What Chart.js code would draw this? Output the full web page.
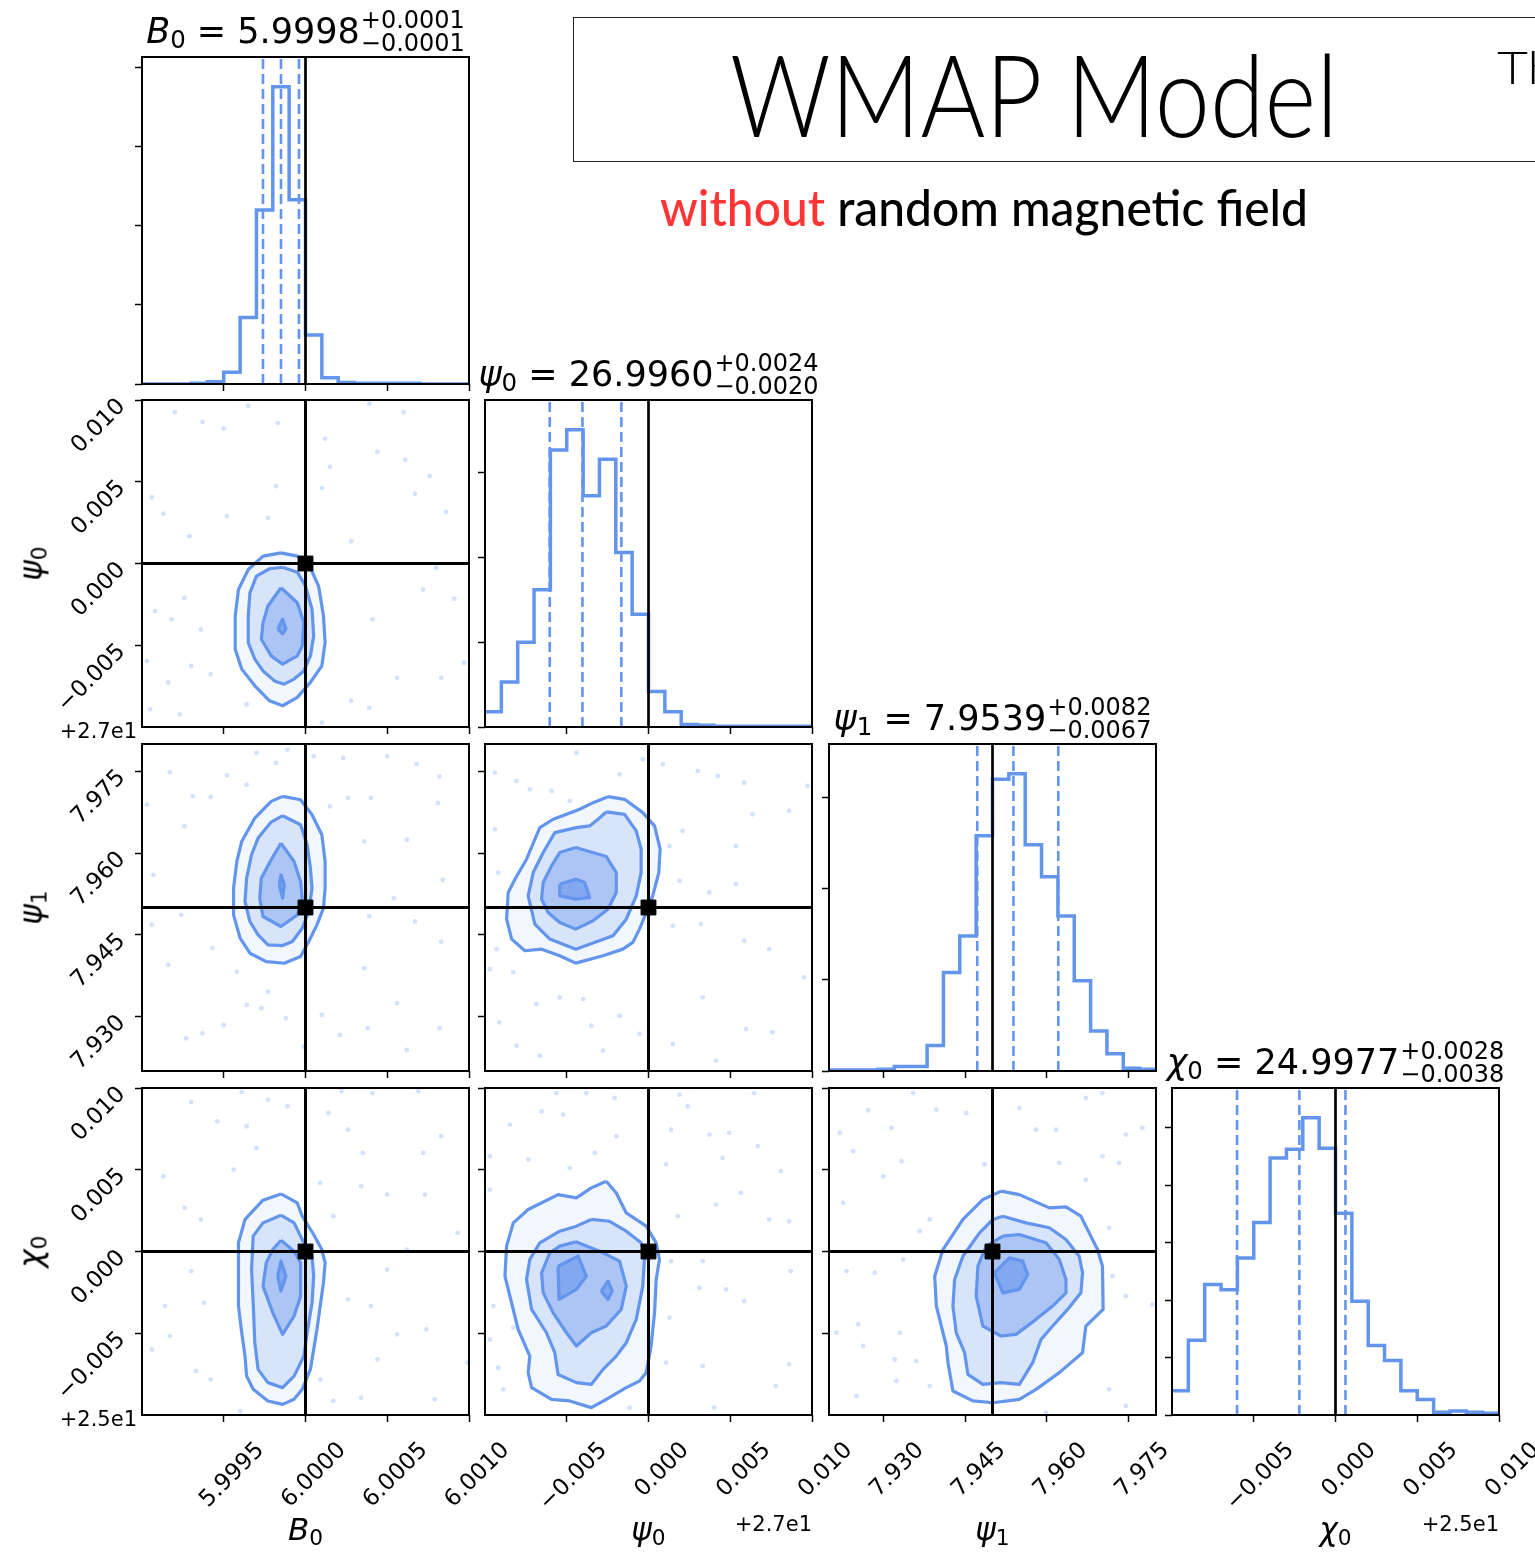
<!DOCTYPE html>
<html>
<head>
<meta charset="utf-8">
<title>WMAP Model corner plot</title>
<script src="https://cdn.jsdelivr.net/npm/chart.js@4.4.1/dist/chart.umd.min.js"></script>
<style>
  html, body { margin: 0; padding: 0; }
  body { width: 1535px; height: 1558px; overflow: hidden; position: relative; background: #fff;
         font-family: "DejaVu Sans", sans-serif; color: #000; }
  canvas { position: absolute; }
  .txt { position: absolute; white-space: nowrap; line-height: 1.2; }
  .txt sub { font-size: 0.7em; vertical-align: -0.22em; line-height: 0; }
  .ttl { font-size: 35px; }
  .pm { display: inline-flex; flex-direction: column; font-size: 24px; line-height: 23px; vertical-align: 15px; margin-left: 1px; }
  .axl { font-size: 31px; }
  .off { font-size: 21px; }
  #box { position: absolute; left: 573px; top: 17px; width: 1100px; height: 143px; border: 1.5px solid #222; }
  .hd { position: absolute; white-space: nowrap; font-family: Lato, sans-serif; line-height: 1.2; transform-origin: 0 0; }
</style>
</head>
<body>
<div id="box"></div>
<div class="hd" id="hTitle" style="font-weight:300;font-size:114px;">WMAP Model</div>
<div class="hd" id="hSide" style="font-weight:300;font-size:46px;">Th</div>
<div class="hd" id="hSub" style="font-size:50px;font-weight:500;"><span style="color:#ff3535">without</span> random magnetic field</div>
<script>
// ---- data ----
var nBins = 20;
var histTickStep = 100;

var b0Range = [5.999, 6.001];
var psi0Range = [26.99, 27.01];
var psi1Range = [7.92, 7.98];
var chi0Range = [24.99, 25.01];

var b0Ticks = [5.9995, 6.0, 6.0005, 6.001];
var psi0Ticks = [26.995, 27.0, 27.005, 27.01];
var psi1Ticks = [7.93, 7.945, 7.96, 7.975];
var chi0Ticks = [24.995, 25.0, 25.005, 25.01];

var b0Truth = 6.0, psi0Truth = 27.0, psi1Truth = 7.95, chi0Truth = 25.0;

var b0Counts = [0, 0, 0, 1, 3, 15, 84, 220, 376, 233, 62, 8, 2, 1, 1, 1, 1, 0, 0, 0];
var psi0Counts = [18, 53, 100, 162, 327, 351, 273, 316, 206, 133, 42, 18, 3, 2, 1, 1, 1, 1, 1, 1];
var psi1Counts = [1, 1, 1, 2, 5, 5, 28, 108, 148, 258, 320, 326, 248, 213, 170, 99, 44, 19, 3, 2];
var chi0Counts = [42, 130, 227, 218, 273, 335, 447, 462, 517, 464, 351, 198, 121, 95, 42, 27, 5, 7, 5, 3];

var b0Quant = [5.99974, 5.99985, 5.99996];
var psi0Quant = [26.99396, 26.99596, 26.99834];
var psi1Quant = [7.94720, 7.95384, 7.96207];
var chi0Quant = [24.99398, 24.99779, 25.00061];

var b0Title = ['5.9998', '+0.0001', '\u22120.0001'];
var psi0Title = ['26.9960', '+0.0024', '\u22120.0020'];
var psi1Title = ['7.9539', '+0.0082', '\u22120.0067'];
var chi0Title = ['24.9977', '+0.0028', '\u22120.0038'];

// contours, outer (2 sigma) to inner
var b0Psi0C1 = [[5.99985,27.00065],[5.99995,27.00045],[6.00003,26.99974],[6.00008,26.99862],[6.00011,26.99679],[6.00012,26.99516],[6.00010,26.99374],[6.00003,26.99273],[5.99995,26.99181],[5.99986,26.99130],[5.99978,26.99160],[5.99969,26.99252],[5.99961,26.99354],[5.99957,26.99476],[5.99957,26.99679],[5.99959,26.99841],[5.99965,26.99963],[5.99974,27.00045]];
var b0Psi0C2 = [[5.99986,26.99977],[5.99995,26.99947],[6.00000,26.99862],[6.00004,26.99720],[6.00005,26.99557],[6.00003,26.99435],[5.99999,26.99343],[5.99993,26.99293],[5.99987,26.99262],[5.99981,26.99282],[5.99974,26.99343],[5.99969,26.99415],[5.99965,26.99516],[5.99965,26.99679],[5.99966,26.99821],[5.99970,26.99923],[5.99978,26.99968]];
var b0Psi0C3 = [[5.99985,26.99852],[5.99995,26.99760],[5.99999,26.99638],[5.99998,26.99496],[5.99995,26.99435],[5.99986,26.99384],[5.99979,26.99435],[5.99973,26.99537],[5.99974,26.99638],[5.99977,26.99740]];
var b0Psi0C4 = [[5.99983,26.99598],[5.99986,26.99659],[5.99988,26.99598],[5.99986,26.99570]];

var b0Psi1C1 = [[5.99986,7.97039],[5.99997,7.96978],[6.00004,7.96702],[6.00010,7.96335],[6.00012,7.95845],[6.00012,7.95355],[6.00011,7.94988],[6.00007,7.94682],[6.00002,7.94375],[5.99997,7.94100],[5.99987,7.93977],[5.99976,7.94008],[5.99966,7.94161],[5.99960,7.94437],[5.99956,7.94865],[5.99956,7.95355],[5.99958,7.95845],[5.99961,7.96212],[5.99969,7.96641],[5.99979,7.96947]];
var b0Psi1C2 = [[5.99986,7.96684],[5.99997,7.96519],[6.00001,7.96151],[6.00003,7.95723],[6.00004,7.95355],[6.00002,7.94927],[5.99998,7.94620],[5.99992,7.94375],[5.99986,7.94302],[5.99977,7.94314],[5.99971,7.94498],[5.99966,7.94743],[5.99963,7.95110],[5.99964,7.95539],[5.99967,7.95968],[5.99971,7.96274],[5.99979,7.96568]];
var b0Psi1C3 = [[5.99985,7.96182],[5.99993,7.95845],[5.99997,7.95478],[5.99998,7.95171],[5.99995,7.94865],[5.99985,7.94651],[5.99974,7.94835],[5.99972,7.95171],[5.99973,7.95539],[5.99979,7.95876]];
var b0Psi1C4 = [[5.99984,7.95416],[5.99985,7.95600],[5.99987,7.95416],[5.99986,7.95171]];

var b0Chi0C1 = [[5.99985,25.00352],[5.99995,25.00297],[5.99998,25.00216],[6.00005,25.00104],[6.00010,25.00012],[6.00012,24.99931],[6.00011,24.99809],[6.00009,24.99666],[6.00007,24.99523],[6.00005,24.99401],[6.00003,24.99279],[5.99998,24.99157],[5.99993,24.99096],[5.99986,24.99065],[5.99977,24.99086],[5.99968,24.99157],[5.99964,24.99238],[5.99963,24.99360],[5.99961,24.99503],[5.99959,24.99666],[5.99959,24.99849],[5.99959,25.00053],[5.99963,25.00196],[5.99974,25.00314]];
var b0Chi0C2 = [[5.99985,25.00222],[5.99993,25.00175],[5.99998,25.00073],[6.00004,24.99971],[6.00005,24.99849],[6.00004,24.99686],[6.00001,24.99503],[5.99999,24.99360],[5.99993,24.99238],[5.99986,24.99167],[5.99977,24.99198],[5.99971,24.99279],[5.99969,24.99442],[5.99968,24.99686],[5.99967,24.99890],[5.99968,25.00094],[5.99974,25.00175]];
var b0Chi0C3 = [[5.99985,25.00069],[5.99993,25.00002],[5.99997,24.99931],[5.99997,24.99727],[5.99993,24.99605],[5.99986,24.99493],[5.99980,24.99625],[5.99974,24.99788],[5.99976,24.99931],[5.99980,25.00012]];
var b0Chi0C4 = [[5.99983,24.99849],[5.99985,24.99941],[5.99988,24.99849],[5.99985,24.99758]];

var psi0Psi1C1 = [[26.99752,7.97034],[26.99854,7.96985],[26.99965,7.96741],[27.00037,7.96497],[27.00071,7.96069],[27.00063,7.95641],[27.00026,7.95214],[26.99986,7.94908],[26.99945,7.94603],[26.99904,7.94359],[26.99843,7.94236],[26.99722,7.94114],[26.99555,7.93980],[26.99457,7.94114],[26.99346,7.94236],[26.99244,7.94206],[26.99163,7.94420],[26.99132,7.94786],[26.99142,7.95275],[26.99183,7.95519],[26.99254,7.95886],[26.99335,7.96466],[26.99417,7.96619],[26.99579,7.96802],[26.99661,7.96924]];
var psi0Psi1C2 = [[26.99742,7.96753],[26.99854,7.96710],[26.99925,7.96405],[26.99955,7.96069],[26.99955,7.95641],[26.99925,7.95214],[26.99864,7.94786],[26.99783,7.94481],[26.99555,7.94236],[26.99396,7.94420],[26.99305,7.94695],[26.99264,7.95214],[26.99295,7.95641],[26.99356,7.96008],[26.99427,7.96374],[26.99559,7.96466],[26.99640,7.96497],[26.99691,7.96619]];
var psi0Psi1C3 = [[26.99555,7.96100],[26.99742,7.95935],[26.99803,7.95641],[26.99803,7.95275],[26.99752,7.94969],[26.99661,7.94756],[26.99555,7.94603],[26.99457,7.94725],[26.99386,7.94908],[26.99346,7.95153],[26.99356,7.95458],[26.99407,7.95764],[26.99457,7.96008]];
var psi0Psi1C4 = [[26.99457,7.95428],[26.99555,7.95519],[26.99610,7.95458],[26.99640,7.95183],[26.99555,7.95153],[26.99457,7.95214]];

var psi0Chi0C1 = [[26.99742,25.00430],[26.99803,25.00358],[26.99864,25.00236],[26.99986,25.00155],[27.00047,25.00053],[27.00067,24.99951],[27.00047,24.99829],[27.00037,24.99625],[27.00016,24.99422],[26.99986,24.99259],[26.99945,24.99208],[26.99864,24.99167],[26.99742,24.99096],[26.99650,24.99045],[26.99518,24.99086],[26.99407,24.99096],[26.99285,24.99167],[26.99264,24.99259],[26.99274,24.99360],[26.99203,24.99523],[26.99122,24.99849],[26.99132,25.00033],[26.99173,25.00175],[26.99264,25.00257],[26.99447,25.00348],[26.99559,25.00328],[26.99650,25.00389]];
var psi0Chi0C2 = [[26.99650,25.00196],[26.99762,25.00185],[26.99864,25.00124],[26.99955,25.00053],[26.99976,24.99971],[26.99965,24.99788],[26.99925,24.99585],[26.99864,24.99442],[26.99803,24.99360],[26.99722,24.99279],[26.99650,24.99187],[26.99559,24.99198],[26.99447,24.99248],[26.99427,24.99381],[26.99376,24.99503],[26.99285,24.99646],[26.99254,24.99829],[26.99274,24.99951],[26.99335,25.00053],[26.99457,25.00124],[26.99559,25.00155]];
var psi0Chi0C3 = [[26.99555,25.00059],[26.99701,25.00002],[26.99823,24.99941],[26.99864,24.99788],[26.99833,24.99646],[26.99742,24.99544],[26.99650,24.99503],[26.99559,24.99422],[26.99498,24.99503],[26.99417,24.99625],[26.99356,24.99747],[26.99346,24.99870],[26.99396,24.99992],[26.99457,25.00033]];
var psi0Chi0C4a = [[26.99447,24.99910],[26.99569,24.99971],[26.99620,24.99849],[26.99559,24.99768],[26.99453,24.99707]];
var psi0Chi0C4b = [[26.99711,24.99758],[26.99752,24.99819],[26.99778,24.99758],[26.99752,24.99707]];

var psi1Chi0C1 = [[7.95159,25.00369],[7.95494,25.00348],[7.96043,25.00267],[7.96348,25.00273],[7.96622,25.00216],[7.96774,25.00114],[7.96927,25.00012],[7.97018,24.99910],[7.97030,24.99646],[7.96713,24.99544],[7.96652,24.99381],[7.96226,24.99259],[7.95799,24.99157],[7.95494,24.99096],[7.95006,24.99075],[7.94640,24.99086],[7.94274,24.99147],[7.94183,24.99320],[7.94152,24.99422],[7.93970,24.99666],[7.93939,24.99849],[7.94091,25.00012],[7.94457,25.00196],[7.94823,25.00318]];
var psi1Chi0C2 = [[7.95189,25.00216],[7.95616,25.00175],[7.96043,25.00145],[7.96348,25.00073],[7.96591,24.99971],[7.96652,24.99870],[7.96622,24.99747],[7.96378,24.99646],[7.96104,24.99544],[7.95890,24.99462],[7.95738,24.99320],[7.95494,24.99187],[7.95159,24.99198],[7.94823,24.99187],[7.94549,24.99248],[7.94488,24.99381],[7.94335,24.99503],[7.94274,24.99666],[7.94305,24.99829],[7.94457,24.99971],[7.94762,25.00114],[7.95006,25.00196]];
var psi1Chi0C3 = [[7.95189,25.00094],[7.95494,25.00104],[7.95982,25.00053],[7.96226,24.99951],[7.96348,24.99829],[7.96348,24.99747],[7.96104,24.99666],[7.95799,24.99585],[7.95433,24.99493],[7.95159,24.99483],[7.94823,24.99544],[7.94701,24.99727],[7.94732,24.99910],[7.94884,25.00033]];
var psi1Chi0C4 = [[7.95037,24.99870],[7.95311,24.99961],[7.95555,24.99941],[7.95646,24.99859],[7.95494,24.99768],[7.95189,24.99747]];

// faint sample points
var b0Psi0Pts = [[5.99920,27.00925],[5.99937,27.00866],[5.99950,27.00825],[5.99965,27.00965],[5.99983,27.00859],[6.00012,27.00764],[6.00039,27.00978],[6.00060,27.00925],[6.00044,27.00684],[6.00061,27.00635],[6.00015,27.00591],[6.00076,27.00534],[5.99982,27.00473],[6.00010,27.00462],[6.00067,27.00426],[6.00086,27.00316],[5.99906,27.00405],[5.99913,27.00305],[5.99929,27.00167],[5.99952,27.00289],[5.99977,27.00279],[6.00028,27.00136],[6.00080,26.99974],[6.00072,26.99841],[6.00091,26.99784],[6.00041,26.99658],[6.00097,26.99393],[6.00083,26.99301],[6.00056,26.99301],[6.00028,26.99159],[6.00039,26.99118],[6.00010,26.99026],[5.99964,26.99138],[5.99923,26.99077],[5.99905,26.99108],[5.99916,26.99271],[5.99930,26.99373],[5.99942,26.99322],[5.99918,26.99658],[5.99908,26.99709],[5.99936,26.99597],[5.99926,26.99790],[5.99903,26.99403]];
var b0Psi1Pts = [[5.99917,7.97480],[5.99926,7.96488],[5.99931,7.97039],[5.99942,7.97027],[5.99952,7.97425],[5.99964,7.97254],[5.99970,7.97835],[5.99982,7.97652],[5.99989,7.97897],[6.00005,7.97774],[6.00023,7.97743],[6.00050,7.97774],[6.00068,7.97633],[6.00082,7.97407],[6.00081,7.96917],[6.00062,7.96243],[6.00036,7.96212],[6.00015,7.96855],[6.00026,7.97009],[6.00040,7.97009],[6.00084,7.95508],[6.00054,7.95171],[6.00039,7.94835],[6.00067,7.94743],[6.00083,7.94375],[6.00036,7.93885],[6.00056,7.93243],[6.00062,7.92385],[6.00082,7.92783],[6.00038,7.92783],[6.00021,7.92661],[6.00010,7.93028],[5.99999,7.92446],[5.99988,7.92967],[5.99973,7.93151],[5.99964,7.93212],[5.99950,7.92844],[5.99937,7.92691],[5.99927,7.92600],[5.99916,7.93947],[5.99906,7.94682],[5.99907,7.95600],[5.99903,7.96886],[5.99924,7.94865],[5.99943,7.94253],[5.99958,7.93824],[5.99977,7.93457]];
var b0Chi0Pts = [[5.99930,25.00914],[5.99961,25.00976],[5.99977,25.00929],[5.99964,25.00766],[5.99970,25.00633],[5.99989,25.00888],[6.00014,25.00847],[6.00022,25.00980],[6.00041,25.00969],[6.00069,25.00980],[6.00083,25.00705],[6.00072,25.00603],[6.00035,25.00603],[6.00026,25.00745],[6.00009,25.00420],[6.00017,25.00216],[6.00034,25.00399],[6.00050,25.00348],[6.00073,25.00348],[6.00093,25.00114],[6.00062,25.00012],[6.00050,24.99890],[6.00026,24.99707],[6.00040,24.99666],[6.00074,24.99523],[6.00056,24.99493],[6.00044,24.99340],[6.00099,24.99320],[6.00079,24.99096],[6.00034,24.99106],[6.00017,24.99086],[6.00009,24.99218],[5.99960,24.99024],[5.99942,24.99218],[5.99933,24.99269],[5.99917,24.99483],[5.99906,24.99401],[5.99914,24.99666],[5.99938,24.99686],[5.99930,24.99880],[5.99936,25.00196],[5.99913,25.00460],[5.99926,25.00267],[5.99956,25.00501],[5.99946,25.00796]];
var psi0Psi1Pts = [[26.99061,7.97474],[26.99193,7.97321],[26.99274,7.97169],[26.99407,7.97138],[26.99559,7.97841],[26.99518,7.96955],[26.99823,7.97443],[26.99965,7.97718],[27.00087,7.97627],[27.00301,7.97505],[27.00423,7.97413],[27.00585,7.97291],[27.00860,7.96772],[27.00972,7.97230],[27.00636,7.96710],[27.00535,7.96130],[27.00209,7.96405],[27.00128,7.96130],[27.00189,7.95489],[27.00372,7.95275],[27.00535,7.95428],[27.00321,7.94695],[27.00148,7.94664],[27.00585,7.94389],[27.00738,7.94236],[27.00951,7.93717],[27.00331,7.93351],[27.00596,7.92770],[27.00758,7.92709],[27.00413,7.92190],[27.00148,7.92495],[26.99945,7.92679],[26.99823,7.93015],[26.99722,7.92373],[26.99650,7.92831],[26.99600,7.93320],[26.99457,7.93351],[26.99315,7.93228],[26.99173,7.93809],[26.99030,7.93870],[26.99087,7.92892],[26.99193,7.92465],[26.99335,7.92282],[26.99071,7.94236],[26.99061,7.96436],[26.99081,7.95641]];
var psi0Chi0Pts = [[26.99437,25.00969],[26.99620,25.00969],[26.99793,25.00939],[26.99346,25.00857],[26.99478,25.00837],[26.99152,25.00776],[26.99264,25.00562],[26.99518,25.00511],[26.99671,25.00603],[26.99803,25.00705],[27.00108,25.00532],[27.00189,25.00959],[27.00240,25.00888],[27.00138,25.00745],[27.00372,25.00715],[27.00494,25.00725],[27.00646,25.00969],[27.00667,25.00644],[27.00809,25.00491],[27.00453,25.00572],[27.00413,25.00287],[27.00565,25.00358],[27.00738,25.00196],[27.00860,25.00185],[27.00179,25.00216],[27.00331,24.99941],[27.00138,24.99941],[27.00311,24.99778],[27.00474,24.99768],[27.00585,24.99697],[27.00870,24.99880],[27.00860,24.99310],[27.00778,24.99177],[27.00402,24.99045],[27.00331,24.99299],[27.00108,24.99320],[27.00128,24.99595],[26.99884,24.99045],[26.99112,24.99157],[26.99081,24.99289],[26.99173,24.99534],[26.99051,24.99666],[26.99030,24.99462],[26.99030,25.00582],[26.99030,25.00379]];
var psi1Chi0Pts = [[7.92720,25.00864],[7.93146,25.00756],[7.93543,25.00969],[7.93970,25.00868],[7.94518,25.00847],[7.94854,25.00532],[7.95494,25.00878],[7.95799,25.00745],[7.96165,25.00745],[7.96713,25.00939],[7.97018,25.00969],[7.97445,25.00715],[7.97750,25.00756],[7.97018,25.00582],[7.96713,25.00440],[7.96226,25.00542],[7.97323,25.00542],[7.93329,25.00552],[7.92994,25.00460],[7.92445,25.00613],[7.92201,25.00725],[7.92262,25.00297],[7.93665,25.00124],[7.93848,25.00196],[7.93360,24.99951],[7.92841,24.99870],[7.92323,24.99880],[7.92537,24.99554],[7.92628,24.99422],[7.92140,24.99503],[7.93299,24.99503],[7.93207,24.99340],[7.93604,24.99330],[7.93848,24.99177],[7.93238,24.99208],[7.92506,24.99116],[7.96530,24.99360],[7.97140,24.99157],[7.97445,24.99055],[7.95982,24.99014],[7.97445,24.99727],[7.97201,24.99849],[7.97933,24.99676],[7.97140,25.00145]];

// ---- layout ----
var COLX = [142, 485, 829, 1172];
var ROWY = [57, 400, 744, 1088];
var PS = 327;
var BLUE = '#6495ed';
var FILLS = ['#f2f6fd', '#d8e4fa', '#acc5f4', '#82a9ef'];

function minus(s) { return s.replace('-', '\u2212'); }

var params = [
  {html: '<i>B</i><sub>0</sub>', range: b0Range, ticks: b0Ticks, truth: b0Truth, counts: b0Counts, q: b0Quant, title: b0Title,
   fmt: function (v) { return v.toFixed(4); }, offset: null},
  {html: '<i>\u03c8</i><sub>0</sub>', range: psi0Range, ticks: psi0Ticks, truth: psi0Truth, counts: psi0Counts, q: psi0Quant, title: psi0Title,
   fmt: function (v) { return (v - 27).toFixed(3); }, offset: '+2.7e1'},
  {html: '<i>\u03c8</i><sub>1</sub>', range: psi1Range, ticks: psi1Ticks, truth: psi1Truth, counts: psi1Counts, q: psi1Quant, title: psi1Title,
   fmt: function (v) { return v.toFixed(3); }, offset: null},
  {html: '<i>\u03c7</i><sub>0</sub>', range: chi0Range, ticks: chi0Ticks, truth: chi0Truth, counts: chi0Counts, q: chi0Quant, title: chi0Title,
   fmt: function (v) { return (v - 25).toFixed(3); }, offset: '+2.5e1'}
];

var pairs = [
  {r: 1, c: 0, levels: [[b0Psi0C1], [b0Psi0C2], [b0Psi0C3], [b0Psi0C4]], pts: b0Psi0Pts},
  {r: 2, c: 0, levels: [[b0Psi1C1], [b0Psi1C2], [b0Psi1C3], [b0Psi1C4]], pts: b0Psi1Pts},
  {r: 3, c: 0, levels: [[b0Chi0C1], [b0Chi0C2], [b0Chi0C3], [b0Chi0C4]], pts: b0Chi0Pts},
  {r: 2, c: 1, levels: [[psi0Psi1C1], [psi0Psi1C2], [psi0Psi1C3], [psi0Psi1C4]], pts: psi0Psi1Pts},
  {r: 3, c: 1, levels: [[psi0Chi0C1], [psi0Chi0C2], [psi0Chi0C3], [psi0Chi0C4a, psi0Chi0C4b]], pts: psi0Chi0Pts},
  {r: 3, c: 2, levels: [[psi1Chi0C1], [psi1Chi0C2], [psi1Chi0C3], [psi1Chi0C4]], pts: psi1Chi0Pts}
];

var framePlugin = {
  id: 'frame',
  afterDatasetsDraw: function (chart) {
    var a = chart.chartArea, ctx = chart.ctx;
    ctx.save();
    ctx.strokeStyle = '#000';
    ctx.lineWidth = 2;
    ctx.strokeRect(a.left, a.top, a.right - a.left, a.bottom - a.top);
    ctx.restore();
  }
};

function axisOpts(range, ticks, show, fmt, ax, size) {
  return {
    type: 'linear', min: range[0], max: range[1],
    afterBuildTicks: function (s) { s.ticks = ticks.map(function (v) { return {value: v}; }); },
    afterFit: function (s) {
      if (ax === 'x') s.height = size; else s.width = size;
      s.paddingLeft = 0; s.paddingRight = 0; s.paddingTop = 0; s.paddingBottom = 0;
    },
    border: {display: false},
    grid: {drawOnChartArea: false, drawTicks: true, tickLength: 7, tickWidth: 1.5, tickColor: '#000', color: '#000'},
    ticks: {
      display: show, autoSkip: false, minRotation: 45, maxRotation: 45,
      padding: ax === 'x' ? 15 : 13, labelOffset: ax === 'x' ? 37 : 3,
      color: '#000', font: {family: 'DejaVu Sans', size: 23},
      callback: function (v) { return minus(fmt(v)); }
    }
  };
}

function panel(r, c, datasets, ys) {
  var L = c === 0 ? 140 : 14, B = r === 3 ? 110 : 14, T = 4, R = r === 3 ? 44 : 4;
  var cv = document.createElement('canvas');
  cv.width = PS + L + R;
  cv.height = PS + T + B;
  cv.style.left = (COLX[c] - L) + 'px';
  cv.style.top = (ROWY[r] - T) + 'px';
  document.body.appendChild(cv);
  var px = params[c];
  new Chart(cv, {
    type: 'scatter',
    data: {datasets: datasets},
    options: {
      responsive: false, animation: false, events: [],
      layout: {autoPadding: false, padding: {left: 0, top: T, right: R, bottom: 0}},
      plugins: {legend: {display: false}, tooltip: {enabled: false}},
      scales: {
        x: axisOpts(px.range, px.ticks, r === 3, px.fmt, 'x', B),
        y: axisOpts(ys.range, ys.ticks, ys.show, ys.fmt, 'y', L)
      }
    },
    plugins: [framePlugin]
  });
}

function vline(v, y0, y1, color, dash, width, order) {
  return {type: 'line', data: [{x: v, y: y0}, {x: v, y: y1}], borderColor: color, borderDash: dash,
          borderWidth: width, pointRadius: 0, fill: false, order: order};
}

function hline(v, x0, x1, color, width, order) {
  return {type: 'line', data: [{x: x0, y: v}, {x: x1, y: v}], borderColor: color,
          borderWidth: width, pointRadius: 0, fill: false, order: order};
}

function toXY(p) { return {x: p[0], y: p[1]}; }

// diagonal histograms
params.forEach(function (p, i) {
  var step = (p.range[1] - p.range[0]) / nBins;
  var pts = [];
  for (var k = 0; k < nBins; k++) pts.push({x: p.range[0] + k * step, y: p.counts[k]});
  pts.push({x: p.range[1], y: p.counts[nBins - 1]});
  var yMax = 1.1 * Math.max.apply(null, p.counts);
  var yTicks = [];
  for (var t = 0; t <= yMax; t += histTickStep) yTicks.push(t);
  var sets = [{type: 'line', data: pts, stepped: true, borderColor: BLUE, borderWidth: 3.5,
               pointRadius: 0, fill: false, order: 3}];
  sets.push(vline(p.truth, 0, yMax, '#000', [], 2.7, 1));
  p.q.forEach(function (q) { sets.push(vline(q, 0, yMax, BLUE, [10, 5], 2.6, 2)); });
  panel(i, i, sets, {range: [0, yMax], ticks: yTicks, show: false, fmt: function (v) { return String(v); }});
});

// 2d panels
pairs.forEach(function (pr) {
  var px = params[pr.c], py = params[pr.r];
  var sets = [{type: 'scatter', data: pr.pts.map(toXY), pointRadius: 2.4, backgroundColor: 'rgba(100,149,237,0.28)',
               borderWidth: 0, order: 9}];
  pr.levels.forEach(function (polys, k) {
    polys.forEach(function (poly) {
      var d = poly.map(toXY);
      d.push(d[0]);
      sets.push({type: 'line', data: d, fill: 'shape', backgroundColor: FILLS[k], borderColor: BLUE,
                 borderWidth: 3.2, borderJoinStyle: 'round', pointRadius: 0, tension: 0, order: 8 - k});
    });
  });
  sets.push(hline(py.truth, px.range[0], px.range[1], '#000', 3, 2));
  sets.push(vline(px.truth, py.range[0], py.range[1], '#000', [], 3, 2));
  sets.push({type: 'scatter', data: [{x: px.truth, y: py.truth}], pointStyle: 'rect', pointRadius: 10.5,
             backgroundColor: '#000', borderColor: '#000', borderWidth: 1, order: 0});
  panel(pr.r, pr.c, sets, {range: py.range, ticks: py.ticks, show: pr.c === 0, fmt: py.fmt});
});

// ---- text ----
function place(el, x, yBase, align) {
  var mk = document.createElement('span');
  mk.style.cssText = 'display:inline-block;width:0;height:0;';
  el.appendChild(mk);
  el.style.left = '0px';
  el.style.top = '0px';
  var r = el.getBoundingClientRect();
  var base = mk.getBoundingClientRect().bottom - r.top;
  var left = x;
  if (align === 'center') left = x - r.width / 2;
  if (align === 'right') left = x - r.width;
  el.style.left = left + 'px';
  el.style.top = (yBase - base) + 'px';
  return r.width;
}

function addText(html, cls, x, yBase, align) {
  var d = document.createElement('div');
  d.className = 'txt ' + cls;
  d.innerHTML = html;
  document.body.appendChild(d);
  place(d, x, yBase, align);
  return d;
}

params.forEach(function (p, i) {
  var cx = COLX[i] + PS / 2;
  addText(p.html + ' = ' + p.title[0] + '<span class="pm"><span>' + p.title[1] + '</span><span>' + p.title[2] + '</span></span>',
          'ttl', cx, ROWY[i] - 14, 'center');
  addText(p.html, 'axl', cx, 1540, 'center');
  if (p.offset) addText(p.offset, 'off', COLX[i] + PS, 1531, 'right');
  if (i > 0) {
    var d = document.createElement('div');
    d.className = 'txt axl';
    d.innerHTML = p.html;
    document.body.appendChild(d);
    var rr = d.getBoundingClientRect();
    d.style.left = (31 - rr.width / 2) + 'px';
    d.style.top = (ROWY[i] + PS / 2 - rr.height / 2) + 'px';
    d.style.transform = 'rotate(-90deg)';
    if (p.offset) addText(p.offset, 'off', 137, ROWY[i] + PS + 11, 'right');
  }
});

function header(id, x, yBase, w) {
  var el = document.getElementById(id);
  var actual = place(el, x, yBase, 'left');
  el.style.transform = 'scaleX(' + (w / actual) + ')';
}
header('hTitle', 730, 137, 608);
header('hSide', 1497, 84, 60);
header('hSub', 660, 226, 648);
</script>
</body>
</html>
